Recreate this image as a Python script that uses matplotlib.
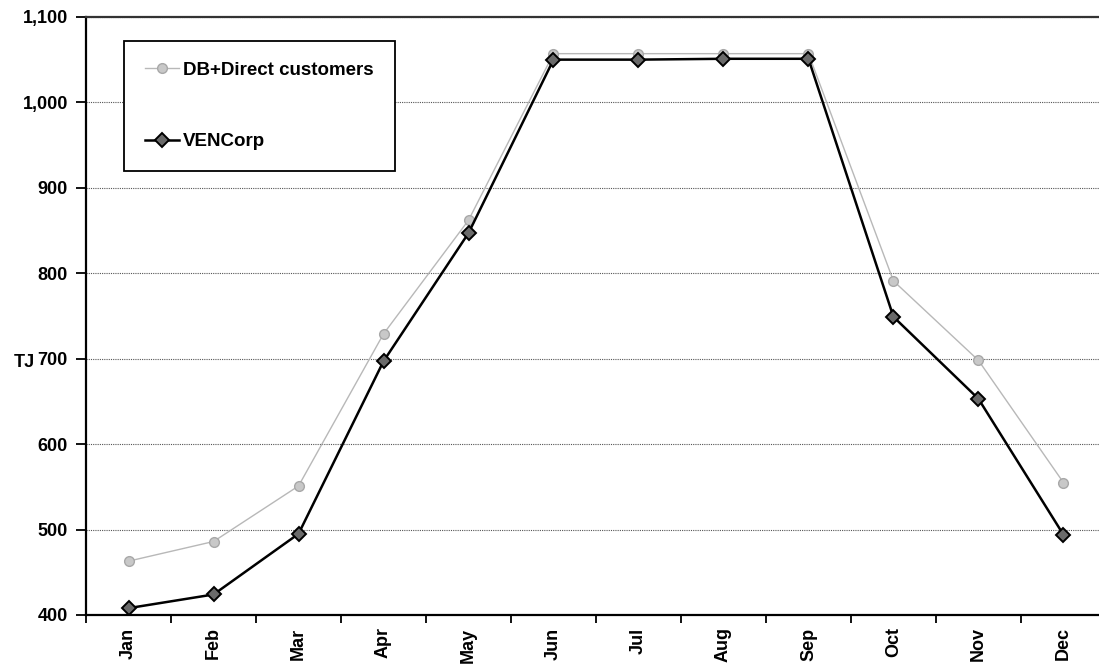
import matplotlib.pyplot as plt
import numpy as np
from matplotlib.ticker import FuncFormatter, FixedLocator

plt.rcParams['font.family'] = ['Liberation Sans', 'DejaVu Sans']
plt.rcParams['font.weight'] = 'bold'

months = ['Jan', 'Feb', 'Mar', 'Apr', 'May', 'Jun',
          'Jul', 'Aug', 'Sep', 'Oct', 'Nov', 'Dec']
db_direct = [463, 486, 551, 729, 862, 1057, 1057, 1057, 1057, 791, 698, 555]
vencorp = [408, 424, 495, 697, 847, 1050, 1050, 1051, 1051, 749, 653, 494]
yticks = [400, 500, 600, 700, 800, 900, 1000, 1100]

fig = plt.figure(figsize=(10.99, 6.66), dpi=100)
ax = fig.add_axes([0.0783, 0.0766, 0.928, 0.898])

x = np.arange(len(months))

ax.plot(x, db_direct, color='#b8b8b8', lw=1.0, marker='o', ms=7,
        mfc='#c8c8c8', mec='#a8a8a8', mew=1.0, label='DB+Direct customers', zorder=3)
ax.plot(x, vencorp, color='black', lw=1.8, marker='D', ms=7,
        mfc='#6a6a6a', mec='black', mew=1.4, label='VENCorp', zorder=4)

ax.set_xlim(-0.5, len(months) - 0.5)
ax.set_ylim(400, 1100)

ax.set_yticks(yticks)
ax.yaxis.set_major_formatter(FuncFormatter(lambda v, p: f'{int(v):,}'))
ax.tick_params(axis='y', direction='out', length=7, width=1.3,
               labelsize=13, pad=6)

# month names centred, tick marks on the boundaries between months
ax.set_xticks(x)
ax.set_xticklabels(months, rotation=90, fontsize=13, fontweight='bold')
ax.tick_params(axis='x', which='major', length=0, pad=9)
ax.xaxis.set_minor_locator(FixedLocator(np.arange(-0.5, len(months), 1.0)))
ax.tick_params(axis='x', which='minor', direction='out', length=6, width=1.3)

ax.grid(axis='y', color='#555555', lw=0.8, linestyle=(0, (1, 1)))
ax.set_axisbelow(True)

for s in ['left', 'bottom']:
    ax.spines[s].set_linewidth(1.6)
    ax.spines[s].set_color('black')
ax.spines['top'].set_linewidth(1.6)
ax.spines['top'].set_color('#333333')
ax.spines['right'].set_visible(False)

fig.text(0.0128, 0.455, 'TJ', fontsize=13, fontweight='bold', va='center')

leg = ax.legend(loc='upper left', bbox_to_anchor=(0.0375, 0.96), frameon=True,
                fancybox=False, edgecolor='black', framealpha=1,
                prop={'size': 13.5, 'weight': 'bold'}, labelspacing=2.9,
                handlelength=1.8, handletextpad=0.25, borderpad=1.1,
                borderaxespad=0)
leg.get_frame().set_linewidth(1.3)

fig.savefig('out.png', dpi=100)
